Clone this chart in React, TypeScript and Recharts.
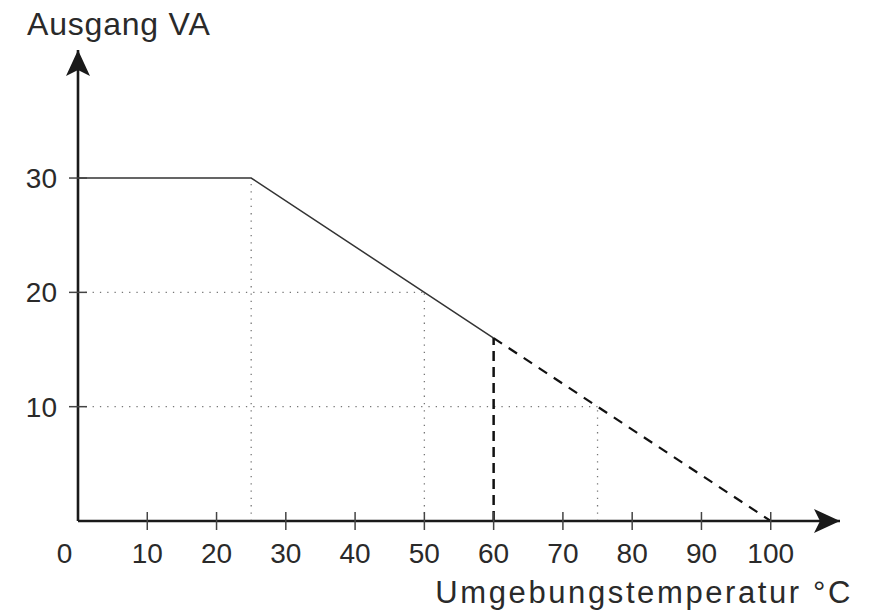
import React from "react";
import { LineChart, Line, XAxis, YAxis, ReferenceDot } from "recharts";

// Data
const xTicks = [0, 10, 20, 30, 40, 50, 60, 70, 80, 90, 100];
const yTicks = [10, 20, 30];
const ratedCurve = [
  { x: 0, y: 30 },
  { x: 25, y: 30 },
  { x: 60, y: 16 },
];
const extrapolated = [
  { x: 60, y: 16 },
  { x: 100, y: 0 },
];
const limit60 = [
  { x: 60, y: 0 },
  { x: 60, y: 16 },
];
const guide25 = [
  { x: 25, y: 0 },
  { x: 25, y: 30 },
];
const guide50v = [
  { x: 50, y: 0 },
  { x: 50, y: 20 },
];
const guide50h = [
  { x: 0, y: 20 },
  { x: 50, y: 20 },
];
const guide75v = [
  { x: 75, y: 0 },
  { x: 75, y: 10 },
];
const guide75h = [
  { x: 0, y: 10 },
  { x: 75, y: 10 },
];
const xMax = 110;
const yMax = 41.2;
const yTitle = "Ausgang VA";
const xTitle = "Umgebungstemperatur °C";

const FONT = "'Liberation Sans', Arial, sans-serif";
const TEXT = "#2a2a2a";

const XTick = (props: any) => {
  const { x, y, payload } = props;
  const v = payload.value;
  return (
    <g>
      {v !== 0 && (
        <line x1={x} x2={x} y1={y - 9} y2={y + 9} stroke="#444" strokeWidth={1.5} />
      )}
      <text
        x={v === 0 ? x - 13.5 : x}
        y={y + 42}
        textAnchor="middle"
        fontSize={28}
        fontFamily={FONT}
        fill={TEXT}
      >
        {v}
      </text>
    </g>
  );
};

const YTick = (props: any) => {
  const { x, y, payload } = props;
  return (
    <g>
      <line x1={x - 9} x2={x + 9} y1={y} y2={y} stroke="#444" strokeWidth={1.5} />
      <text
        x={x - 21}
        y={y}
        dy="0.36em"
        textAnchor="end"
        fontSize={28}
        fontFamily={FONT}
        fill={TEXT}
      >
        {payload.value}
      </text>
    </g>
  );
};

const ArrowRight = (props: any) => {
  const { cx, cy } = props;
  return <path d={`M ${cx} ${cy} L ${cx - 26} ${cy - 12} L ${cx - 20} ${cy} L ${cx - 26} ${cy + 12} Z`} fill="#1a1a1a" />;
};
const ArrowUp = (props: any) => {
  const { cx, cy } = props;
  return <path d={`M ${cx} ${cy} L ${cx - 12} ${cy + 26} L ${cx} ${cy + 20} L ${cx + 12} ${cy + 26} Z`} fill="#1a1a1a" />;
};

export default function App() {
  const guideProps = {
    dataKey: "y",
    stroke: "#777",
    strokeWidth: 1.3,
    strokeDasharray: "1.3 6",
    dot: false,
    isAnimationActive: false,
    strokeLinecap: "butt" as const,
  };
  return (
    <div style={{ position: "absolute", left: 0, top: 0, width: 870, height: 615, background: "#fff" }}>
      <LineChart width={870} height={615} margin={{ top: 50, right: 30, bottom: 0, left: 0 }}>
        <XAxis
          dataKey="x"
          type="number"
          domain={[0, xMax]}
          ticks={xTicks}
          tick={<XTick />}
          tickSize={0}
          tickMargin={0}
          tickLine={false}
          height={94}
          axisLine={{ stroke: "#1a1a1a", strokeWidth: 2.6 }}
          allowDataOverflow
          label={{
            content: () => (
              <text x={853} y={603} textAnchor="end" fontSize={31} fontFamily={FONT} fill={TEXT} letterSpacing={2.6}>
                {xTitle}
              </text>
            ),
          }}
        />
        <YAxis
          type="number"
          domain={[0, yMax]}
          ticks={yTicks}
          tick={<YTick />}
          tickSize={0}
          tickMargin={0}
          tickLine={false}
          width={78}
          axisLine={{ stroke: "#1a1a1a", strokeWidth: 2.6 }}
          allowDataOverflow
          label={{
            content: () => (
              <text x={27} y={34.5} textAnchor="start" fontSize={32} fontFamily={FONT} fill={TEXT} letterSpacing={0.8}>
                {yTitle}
              </text>
            ),
          }}
        />
        <Line data={guide25} {...guideProps} />
        <Line data={guide50v} {...guideProps} />
        <Line data={guide50h} {...guideProps} />
        <Line data={guide75v} {...guideProps} />
        <Line data={guide75h} {...guideProps} />
        <Line data={ratedCurve} dataKey="y" stroke="#333" strokeWidth={1.5} dot={false} isAnimationActive={false} />
        <Line data={extrapolated} dataKey="y" stroke="#111" strokeWidth={2.2} strokeDasharray="10 8" dot={false} isAnimationActive={false} />
        <Line data={limit60} dataKey="y" stroke="#111" strokeWidth={2.5} strokeDasharray="10 6" dot={false} isAnimationActive={false} />
        <ReferenceDot x={xMax} y={0} r={0} shape={<ArrowRight />} ifOverflow="visible" />
        <ReferenceDot x={0} y={yMax} r={0} shape={<ArrowUp />} ifOverflow="visible" />
      </LineChart>
    </div>
  );
}
